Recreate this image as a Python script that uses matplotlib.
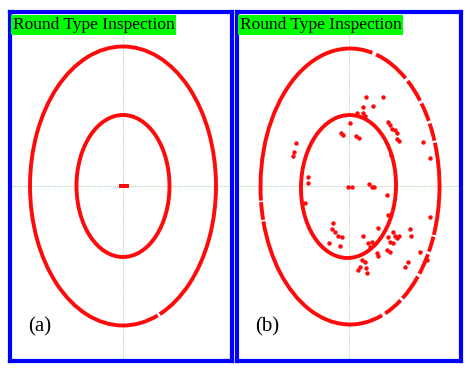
import numpy as np
import matplotlib
matplotlib.use("Agg")
import matplotlib.pyplot as plt
from matplotlib.patches import Ellipse, Arc

# ---- values (pixel units, relative to the cross-hair, y up) ----
panel_labels = ["(a)", "(b)"]
title_text = "Round Type Inspection"

# ellipses: (dx, dy, semi-x, semi-y, tilt deg)
outer_a = (0.0, 0.0, 93.0, 139.5, 0.0)
inner_a = (0.0, 0.0, 46.5, 71.0, 0.0)
outer_b = (1.0, -0.5, 89.5, 138.0, 0.0)
inner_b = (-0.5, -0.5, 47.5, 71.5, -1.5)

# visible pieces of the outer ring (polar angle ranges, degrees)
outer_a_arcs = [(-74, 285)]
outer_b_arcs = [(-74.5, -66), (-64.8, -53), (-51.5, -41), (-39.5, -31), (-30, 27.3),
                (28.5, 38.3), (39.8, 49.3), (50.8, 61.3), (62.8, 78.8), (80.5, 189),
                (190, 201), (202, 284)]

center_a_x = [-2, 0, 2, 4]
center_a_y = [0, 0, 0, 0]

# scattered points in panel (b), absolute pixels in the reference
scatter_b_px = [
    (366, 96.7), (383.3, 96.7), (362.7, 107.3), (373.3, 106), (357.3, 113.3),
    (363.3, 113.3), (365, 116), (350, 123.3), (341, 133.3), (343.3, 135),
    (356, 136), (358.7, 138.3), (388.3, 121.7), (390, 125), (391.7, 129.3),
    (395, 130), (397.3, 133.3), (397.3, 139.3), (399.3, 140.7), (390.7, 155),
    (422.7, 142), (430, 158.3), (296, 143.3), (294, 151.7), (292.7, 156),
    (308.3, 176.7), (307.7, 183.3), (348.3, 186.7), (351.7, 186.7),
    (369.3, 184), (371.7, 186.7), (374.3, 187.3), (386.7, 195), (305, 203.3),
    (388.3, 215), (333.3, 223.3), (331.7, 229.3), (335, 231.7), (338.3, 236),
    (341.7, 237.3), (329.3, 243.3), (340, 246), (362.7, 236), (378.3, 228.3),
    (392.7, 231.7), (395, 236), (399.3, 236), (397.3, 238.3), (410, 229.3),
    (410.7, 236), (430, 216.7), (368.3, 243.3), (370, 246.7), (371.7, 241.7),
    (388.3, 236.7), (390, 241.7), (392.7, 243.3), (387.3, 250), (390, 251.7),
    (376.7, 253.3), (378.3, 256), (361.7, 260), (365, 261.7), (360, 266.7),
    (366, 268.3), (358.3, 270), (366.7, 272.7), (408.3, 261.7), (405, 266.7),
    (420, 251.7), (426.7, 260),
]
center_b_px = (349, 186)
scatter_b_x = [p[0] - center_b_px[0] for p in scatter_b_px]
scatter_b_y = [center_b_px[1] - p[1] for p in scatter_b_px]

W, H = 474, 374
RED = "#ff0a0a"
BLUE = "#0000ff"
GRID = "#a8d8a8"
LW = 2.8

fig = plt.figure(figsize=(W / 100, H / 100), dpi=100)

# panel frames in figure pixels: (left, right, top, bottom, centre x, centre y)
frames = [(10, 232, 12, 361, 123, 186), (237, 461, 12, 361, 349, 186)]
axes = []
for (l, r, t, b, cx, cy) in frames:
    ax = fig.add_axes([l / W, 1 - b / H, (r - l) / W, (b - t) / H])
    ax.set_xlim(l - cx, r - cx)
    ax.set_ylim(cy - b, cy - t)
    ax.set_xticks([])
    ax.set_yticks([])
    for s in ax.spines.values():
        s.set_color(BLUE)
        s.set_linewidth(3.0)
    ax.axhline(0, color=GRID, lw=0.8, ls=(0, (1, 1)), zorder=0)
    ax.axvline(0, color=GRID, lw=0.8, ls=(0, (1, 1)), zorder=0)
    axes.append(ax)


def ring(ax, e, pieces=None):
    dx, dy, a, b, ang = e
    if pieces is None:
        ax.add_patch(Ellipse((dx, dy), 2 * a, 2 * b, angle=ang, fill=False,
                             edgecolor=RED, lw=LW))
    else:
        for t1, t2 in pieces:
            ax.add_patch(Arc((dx, dy), 2 * a, 2 * b, angle=ang, theta1=t1,
                             theta2=t2, edgecolor=RED, lw=LW))


ax_a, ax_b = axes
ring(ax_a, outer_a, outer_a_arcs)
ring(ax_a, inner_a)
ax_a.plot(center_a_x, center_a_y, "s", color=RED, ms=2.6, mew=0)

ring(ax_b, outer_b, outer_b_arcs)
ring(ax_b, inner_b)
ax_b.plot(scatter_b_x, scatter_b_y, "o", color=RED, ms=3.2, mew=0)

for ax, lab in zip(axes, panel_labels):
    ax.text(0.012, 0.985, title_text, transform=ax.transAxes, ha="left", va="top",
            family="Liberation Serif", fontsize=12.5, color="black",
            bbox=dict(facecolor="#00ff00", edgecolor="none", pad=1.4))
    ax.text(0.08, 0.097, lab, transform=ax.transAxes, ha="left", va="center",
            family="Liberation Serif", fontsize=15, color="black")

fig.savefig("out.png", dpi=100)
